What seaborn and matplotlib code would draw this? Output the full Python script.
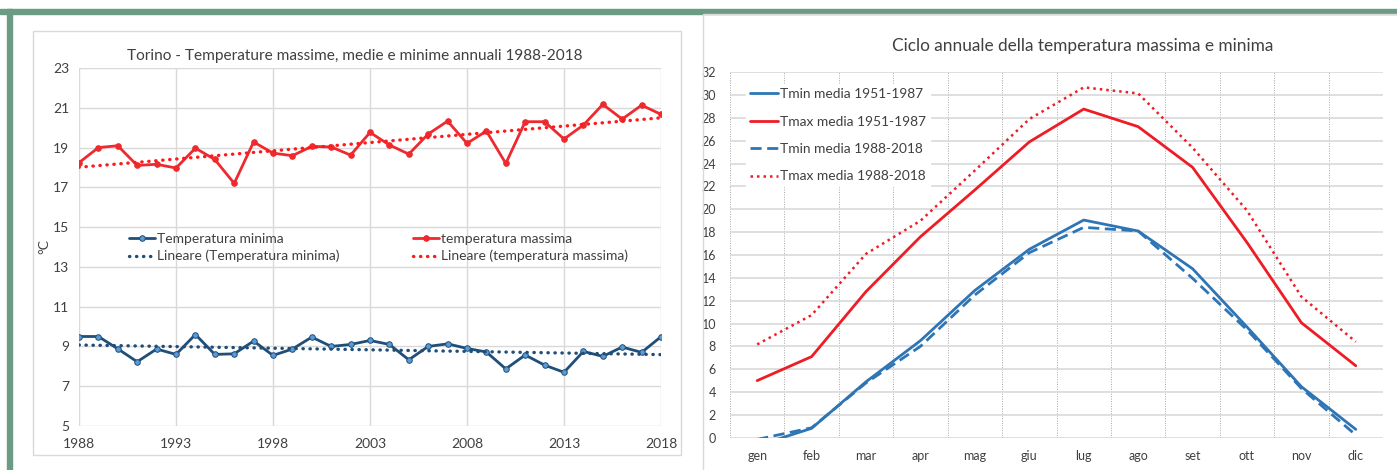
import numpy as np
import pandas as pd
import matplotlib
matplotlib.use("Agg")
import matplotlib.pyplot as plt
from matplotlib.patches import Rectangle
import seaborn as sns

# --- data: annual series Torino 1988-2018 ---
years = list(range(1988, 2019))
tmax_annual = [18.24, 19.0, 19.09, 18.1, 18.16, 17.97, 18.97, 18.4, 17.2, 19.28,
               18.72, 18.59, 19.06, 19.03, 18.62, 19.76, 19.13, 18.67, 19.68, 20.33,
               19.21, 19.83, 18.2, 20.3, 20.3, 19.43, 20.13, 21.17, 20.43, 21.13, 20.67]
tmin_annual = [9.5, 9.5, 8.88, 8.23, 8.87, 8.6, 9.6, 8.6, 8.63, 9.27,
               8.55, 8.87, 9.47, 9.0, 9.1, 9.3, 9.1, 8.33, 9.0, 9.13,
               8.9, 8.72, 7.87, 8.57, 8.06, 7.7, 8.75, 8.5, 8.97, 8.7, 9.49]

# --- data: monthly cycle ---
months = ["gen", "feb", "mar", "apr", "mag", "giu", "lug", "ago", "set", "ott", "nov", "dic"]
tmin_5187 = [-0.7, 0.82, 4.9, 8.5, 12.9, 16.5, 19.06, 18.1, 14.8, 9.7, 4.47, 0.73]
tmax_5187 = [5.0, 7.1, 12.8, 17.6, 21.7, 25.9, 28.78, 27.24, 23.68, 17.1, 10.07, 6.3]
tmin_8818 = [-0.15, 0.87, 4.8, 8.0, 12.5, 16.2, 18.42, 18.1, 13.96, 9.45, 4.32, 0.24]
tmax_8818 = [8.17, 10.74, 16.1, 19.0, 23.4, 27.9, 30.68, 30.15, 25.4, 19.9, 12.35, 8.4]

sns.set_style("white")
plt.rcParams['font.family'] = ['Lato', 'DejaVu Sans']

W, H = 1397, 470
fig = plt.figure(figsize=(W / 100, H / 100), dpi=100)

def fx(px):
    return px / W

def fy(py):
    return 1 - py / H

# frame: green border + panel boxes
green = "#6B9B82"
fig.patches.append(Rectangle((fx(0), fy(14)), 1, 5 / H, transform=fig.transFigure,
                             color=green, zorder=0))
fig.patches.append(Rectangle((fx(7), 0), 5 / W, fy(9), transform=fig.transFigure,
                             color=green, zorder=0))
fig.patches.append(Rectangle((fx(33), fy(455)), 648 / W, 424 / H, transform=fig.transFigure,
                             fill=False, ec="#D9D9D9", lw=1, zorder=0))
fig.patches.append(Rectangle((fx(703), fy(480)), 700 / W, 466 / H, transform=fig.transFigure,
                             fill=False, ec="#D9D9D9", lw=1, zorder=0))

grid_c = "#D9D9D9"
text_c = "#404040"

# ---------------- left chart ----------------
ax1 = fig.add_axes([fx(79), fy(426), 582 / W, 358 / H])
df_a = pd.DataFrame({"anno": years, "tmax": tmax_annual, "tmin": tmin_annual})

c_min = "#1F4E79"
c_max = "#EE2A2F"
sns.lineplot(data=df_a, x="anno", y="tmin", ax=ax1, color=c_min, lw=2, marker="o",
             markersize=4, markerfacecolor="#5B9BD5", markeredgecolor=c_min,
             markeredgewidth=0.7, label="Temperatura minima")
sns.lineplot(data=df_a, x="anno", y="tmax", ax=ax1, color=c_max, lw=2, marker="o",
             markersize=4, markerfacecolor=c_max, markeredgecolor=c_max,
             label="temperatura massima")

yrs = np.array(years)
pmin = np.polyfit(yrs, tmin_annual, 1)
pmax = np.polyfit(yrs, tmax_annual, 1)
ax1.plot(yrs, np.polyval(pmin, yrs), color=c_min, lw=2.4, ls=(0, (0.1, 2.0)),
         dash_capstyle="round", label="Lineare (Temperatura minima)")
ax1.plot(yrs, np.polyval(pmax, yrs), color="#FF1A1A", lw=2.4, ls=(0, (0.1, 2.0)),
         dash_capstyle="round", label="Lineare (temperatura massima)")

ax1.set_xlim(1988, 2018)
ax1.set_ylim(5, 23)
ax1.set_xticks(range(1988, 2019, 5))
ax1.set_yticks(range(5, 24, 2))
ax1.grid(True, color=grid_c, lw=1)
for s in ax1.spines.values():
    s.set_visible(False)
ax1.tick_params(length=0, labelsize=10, colors=text_c)
ax1.tick_params(axis="x", pad=9)
ax1.tick_params(axis="y", pad=7)
ax1.set_xlabel("")
ax1.set_ylabel("°C", fontsize=10, color=text_c, labelpad=2)
ax1.set_title("Torino - Temperature massime, medie e minime annuali 1988-2018",
              fontsize=11.1, color=text_c, pad=6, x=(355 - 79) / 582)

h, l = ax1.get_legend_handles_labels()
order = [0, 2, 1, 3]
leg = ax1.legend([h[i] for i in order], [l[i] for i in order], ncol=2,
                 loc="upper left", bbox_to_anchor=((129 - 79) / 582, (426 - 233) / 358),
                 frameon=False, fontsize=10, handlelength=1.9, handletextpad=0.1,
                 columnspacing=5.3, borderpad=0, borderaxespad=0, labelspacing=0.35)
for t in leg.get_texts():
    t.set_color(text_c)

# ---------------- right chart ----------------
ax2 = fig.add_axes([fx(730), fy(437.7), 653 / W, 365.4 / H])
df_m = pd.DataFrame({"mese": months, "x": range(12),
                     "tmin_5187": tmin_5187, "tmax_5187": tmax_5187,
                     "tmin_8818": tmin_8818, "tmax_8818": tmax_8818})
c_b = "#2E75B6"
c_r = "#EE1C25"
sns.lineplot(data=df_m, x="x", y="tmin_5187", ax=ax2, color=c_b, lw=2,
             label="Tmin media 1951-1987")
sns.lineplot(data=df_m, x="x", y="tmax_5187", ax=ax2, color=c_r, lw=2,
             label="Tmax media 1951-1987")
sns.lineplot(data=df_m, x="x", y="tmin_8818", ax=ax2, color=c_b, lw=2,
             ls=(0, (4, 2)), label="Tmin media 1988-2018")
sns.lineplot(data=df_m, x="x", y="tmax_8818", ax=ax2, color=c_r, lw=1.8,
             ls=(0, (1, 1.6)), label="Tmax media 1988-2018")

ax2.set_xlim(-0.5, 11.5)
ax2.set_ylim(0, 32)
ax2.set_yticks(range(0, 33, 2))
ax2.set_xticks(range(12))
ax2.set_xticklabels(months)
ax2.yaxis.grid(True, color=grid_c, lw=1.2)
for xb in np.arange(-0.5, 12, 1):
    ax2.axvline(xb, color="#A6A6A6", lw=0.7, ls=(0, (1, 1.5)), zorder=0)
for s in ax2.spines.values():
    s.set_visible(False)
ax2.tick_params(length=0, labelsize=9, colors=text_c)
ax2.tick_params(axis="x", pad=9)
ax2.tick_params(axis="y", pad=10)
ax2.set_xlabel("")
ax2.set_ylabel("")
ax2.set_title("Ciclo annuale della temperatura massima e minima", fontsize=12.4,
              color=text_c, pad=15, x=(1083 - 730) / 653)
leg2 = ax2.legend(loc="upper left", bbox_to_anchor=((746 - 730) / 653, (437.7 - 84) / 365.4),
                  frameon=True, fancybox=False, edgecolor="white", facecolor="white",
                  framealpha=1, fontsize=9.9, handlelength=2.0, handletextpad=0.15,
                  borderpad=0.3, borderaxespad=0, labelspacing=1.12)
for t in leg2.get_texts():
    t.set_color(text_c)

fig.savefig("out.png", dpi=100)
